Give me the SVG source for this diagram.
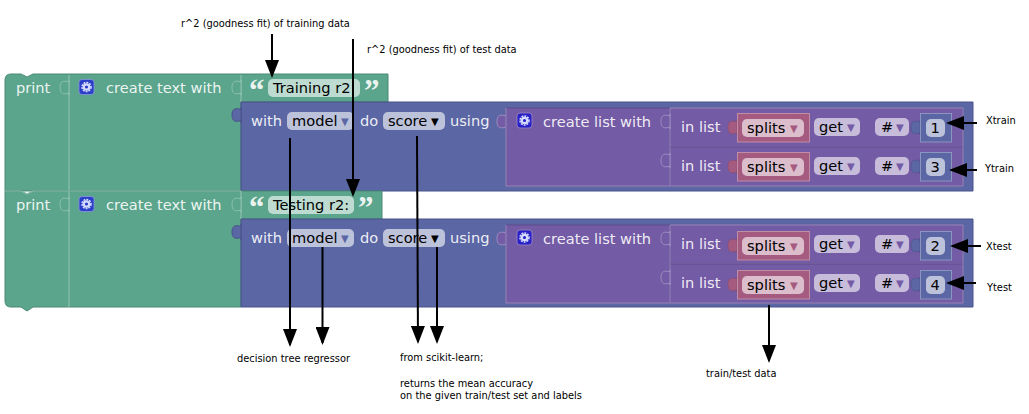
<svg xmlns="http://www.w3.org/2000/svg" width="1029" height="414" viewBox="0 0 1029 414">
<style>
text{font-family:"DejaVu Sans",sans-serif}
.w{font-size:14.62px;fill:#fff;fill-opacity:.9}
.d{font-size:14.62px;fill:#000}
.a{font-size:9.85px;fill:#000}
.g{fill:#5ba58c;stroke:#4a8a74;stroke-width:1}
.gl{stroke:#8cc0ae;stroke-width:1.2;fill:none}
.b{fill:#5b67a5;stroke:#49538a;stroke-width:1}
.p{fill:#745ba5;stroke:#5f4a8a;stroke-width:1}
.pl{fill:none;stroke:#9d8cc0;stroke-width:1}
.r{fill:#a55b80;stroke:#c08ca6;stroke-width:1}
.n{fill:#5b67a5;stroke:#8c95c0;stroke-width:1}
.fb{fill:#bdc2db}
.fp{fill:#c7bddb}
.fr{fill:#dbbdcc}
.fg{fill:#bddbd1}
.tb{fill:#5b67a5;font-size:10px}
.tp{fill:#745ba5;font-size:10px}
.tr{fill:#a55b80;font-size:10px}
.tk{fill:#000;font-size:10px}
.ic{fill:#2a3fc8;stroke:#8c95e0;stroke-width:.8}
.icp{fill:#2a20c8;stroke:#9d8cc0;stroke-width:.8}
.gear{fill:none;stroke:#d5dcff;stroke-width:2.200}
.teeth{fill:none;stroke:#d5dcff;stroke-width:1.600;stroke-dasharray:1.900 1.030}
.q{font-size:31px;font-weight:bold;fill:#fff;fill-opacity:.9;font-family:"Liberation Serif",serif}
.sg{fill:#5ba58c;stroke:#8cc0ae}
.sp{fill:#745ba5;stroke:#9d8cc0}
.tbb{fill:#5b67a5;stroke:#49538a}
.tpk{fill:#a55b80;stroke:#8a4a6a;stroke-width:.6}
.tnb{fill:#5b67a5;stroke:#49538a;stroke-width:.6}
.con{stroke:#000;stroke-width:2;fill:none}
</style>
<defs>
<marker id="ah" markerUnits="userSpaceOnUse" markerWidth="18" markerHeight="14" refX="16" refY="7" orient="auto"><path d="M0 0L18 7L0 14Z" fill="#000"/></marker>
<path id="tab" d="M0 0v2c-6-2-9-.5-9 5.500s3 7.500 9 5.500v2z"/>
</defs>

<g id="print1">
<path class="g" d="M11 74H21l6 3l6-3H388V102H241V191H5V80Q5 74 11 74Z"/>
<path class="gl" d="M69 75V190M241 75V102"/>
<text class="w" x="16" y="93">print</text>
<use href="#tab" x="69" y="80" class="sg"/>
<use href="#tab" x="241" y="80" class="sg"/>
<rect class="ic" x="79" y="79.500" width="15" height="15" rx="3"/>
<circle class="gear" cx="86.500" cy="87" r="2.700"/>
<circle class="teeth" cx="86.500" cy="87" r="4.500"/>
<text class="w" x="106" y="93">create text with</text>
<text class="q" x="249" y="101">“</text>
<rect class="fg" x="268" y="79" width="92" height="18" rx="5"/>
<text class="d" x="273" y="93">Training r2</text>
<text class="q" x="364" y="101">”</text>
</g>

<g id="score1">
<path class="b" d="M241 102H973V191H241Z"/>
<use href="#tab" x="241" y="107.500" class="tbb"/>
<text class="w" x="251" y="126">with</text>
<rect class="fb" x="287" y="112" width="67" height="18" rx="5"/>
<text class="d" x="292" y="126">model</text>
<text class="tb" x="341" y="125">▼</text>
<text class="w" x="360" y="126">do</text>
<rect class="fb" x="383" y="112" width="62" height="18" rx="5"/>
<text class="d" x="388" y="126">score</text>
<text class="tk" x="431" y="125">▼</text>
<text class="w" x="450" y="126">using</text>
<use href="#tab" x="506" y="114" class="sp"/>
</g>

<g id="list1">
<path class="p" d="M506 108H670V186H506Z"/>
<path class="pl" d="M506 108V186H670"/>
<rect class="icp" x="517" y="113" width="15" height="15" rx="3"/>
<circle class="gear" cx="524.500" cy="120.500" r="2.700"/>
<circle class="teeth" cx="524.500" cy="120.500" r="4.500"/>
<text class="w" x="543" y="127">create list with</text>
</g>

<g id="row1">
<path class="p" d="M670 108H963V147H670Z"/>
<path class="pl" d="M670 108V147H963V108H670"/>
<use href="#tab" x="670" y="114" class="sp"/>
<text class="w" x="681" y="132">in list</text>
<use href="#tab" x="737" y="120" class="tpk"/>
<rect class="r" x="737.500" y="113.500" width="72" height="28.500"/>
<rect class="fr" x="742" y="119" width="62" height="18" rx="5"/>
<text class="d" x="747" y="133">splits</text>
<text class="tr" x="790" y="132">▼</text>
<rect class="fp" x="814" y="118" width="46" height="18" rx="5"/>
<text class="d" x="819" y="132">get</text>
<text class="tp" x="847" y="131">▼</text>
<rect class="fp" x="875" y="118" width="34" height="18" rx="5"/>
<text class="d" x="881" y="132">#</text>
<text class="tp" x="896" y="131">▼</text>
<use href="#tab" x="920" y="120" class="tnb"/>
<rect class="n" x="920.500" y="113.500" width="31" height="28.500"/>
<rect class="fb" x="926" y="119" width="19" height="18" rx="5"/>
<text class="d" x="930.500" y="133">1</text>
</g>

<g id="row2">
<path class="p" d="M670 147H963V186H670Z"/>
<path class="pl" d="M670 147V186H963V147"/>
<use href="#tab" x="670" y="153" class="sp"/>
<text class="w" x="681" y="171">in list</text>
<use href="#tab" x="737" y="159" class="tpk"/>
<rect class="r" x="737.500" y="152.500" width="72" height="28.500"/>
<rect class="fr" x="742" y="158" width="62" height="18" rx="5"/>
<text class="d" x="747" y="172">splits</text>
<text class="tr" x="790" y="171">▼</text>
<rect class="fp" x="814" y="157" width="46" height="18" rx="5"/>
<text class="d" x="819" y="171">get</text>
<text class="tp" x="847" y="170">▼</text>
<rect class="fp" x="875" y="157" width="34" height="18" rx="5"/>
<text class="d" x="881" y="171">#</text>
<text class="tp" x="896" y="170">▼</text>
<use href="#tab" x="920" y="159" class="tnb"/>
<rect class="n" x="920.500" y="152.500" width="31" height="28.500"/>
<rect class="fb" x="926" y="158" width="19" height="18" rx="5"/>
<text class="d" x="930.500" y="172">3</text>
</g>

<g id="print2">
<path class="g" d="M5 191H21l6 3l6-3H382V219H241V307H33l-6 4l-6-4H11Q5 307 5 301Z"/>
<path class="gl" d="M5 191H21l6 3l6-3H241M69 191V307M241 191V219"/>
<text class="w" x="16" y="210">print</text>
<use href="#tab" x="69" y="197" class="sg"/>
<use href="#tab" x="241" y="197" class="sg"/>
<rect class="ic" x="79" y="196.500" width="15" height="15" rx="3"/>
<circle class="gear" cx="86.500" cy="204" r="2.700"/>
<circle class="teeth" cx="86.500" cy="204" r="4.500"/>
<text class="w" x="106" y="210">create text with</text>
<text class="q" x="249" y="218">“</text>
<rect class="fg" x="268" y="196" width="86" height="18" rx="5"/>
<text class="d" x="273" y="210">Testing r2:</text>
<text class="q" x="358" y="218">”</text>
</g>

<g id="score2">
<path class="b" d="M241 219H973V307H241Z"/>
<use href="#tab" x="241" y="224.500" class="tbb"/>
<text class="w" x="251" y="243">with</text>
<rect class="fb" x="287" y="229" width="67" height="18" rx="5"/>
<text class="d" x="292" y="243">model</text>
<text class="tb" x="341" y="242">▼</text>
<text class="w" x="360" y="243">do</text>
<rect class="fb" x="383" y="229" width="62" height="18" rx="5"/>
<text class="d" x="388" y="243">score</text>
<text class="tk" x="431" y="242">▼</text>
<text class="w" x="450" y="243">using</text>
<use href="#tab" x="506" y="231" class="sp"/>
</g>

<g id="list2">
<path class="p" d="M506 225H670V303H506Z"/>
<path class="pl" d="M506 225V303H670"/>
<rect class="icp" x="517" y="230" width="15" height="15" rx="3"/>
<circle class="gear" cx="524.500" cy="237.500" r="2.700"/>
<circle class="teeth" cx="524.500" cy="237.500" r="4.500"/>
<text class="w" x="543" y="244">create list with</text>
</g>

<g id="row3">
<path class="p" d="M670 225H963V264H670Z"/>
<path class="pl" d="M670 225V264H963V225H670"/>
<use href="#tab" x="670" y="231" class="sp"/>
<text class="w" x="681" y="249">in list</text>
<use href="#tab" x="737" y="238" class="tpk"/>
<rect class="r" x="737.500" y="231.500" width="72" height="28.500"/>
<rect class="fr" x="742" y="237" width="62" height="18" rx="5"/>
<text class="d" x="747" y="251">splits</text>
<text class="tr" x="790" y="250">▼</text>
<rect class="fp" x="814" y="235" width="46" height="18" rx="5"/>
<text class="d" x="819" y="249">get</text>
<text class="tp" x="847" y="248">▼</text>
<rect class="fp" x="875" y="235" width="34" height="18" rx="5"/>
<text class="d" x="881" y="249">#</text>
<text class="tp" x="896" y="248">▼</text>
<use href="#tab" x="920" y="238" class="tnb"/>
<rect class="n" x="920.500" y="231.500" width="31" height="28.500"/>
<rect class="fb" x="926" y="237" width="19" height="18" rx="5"/>
<text class="d" x="930.500" y="251">2</text>
</g>

<g id="row4">
<path class="p" d="M670 264H963V303H670Z"/>
<path class="pl" d="M670 264V303H963V264"/>
<use href="#tab" x="670" y="270" class="sp"/>
<text class="w" x="681" y="288">in list</text>
<use href="#tab" x="737" y="277" class="tpk"/>
<rect class="r" x="737.500" y="270.500" width="72" height="28.500"/>
<rect class="fr" x="742" y="276" width="62" height="18" rx="5"/>
<text class="d" x="747" y="290">splits</text>
<text class="tr" x="790" y="289">▼</text>
<rect class="fp" x="814" y="274" width="46" height="18" rx="5"/>
<text class="d" x="819" y="288">get</text>
<text class="tp" x="847" y="287">▼</text>
<rect class="fp" x="875" y="274" width="34" height="18" rx="5"/>
<text class="d" x="881" y="288">#</text>
<text class="tp" x="896" y="287">▼</text>
<use href="#tab" x="920" y="277" class="tnb"/>
<rect class="n" x="920.500" y="270.500" width="31" height="28.500"/>
<rect class="fb" x="926" y="276" width="19" height="18" rx="5"/>
<text class="d" x="930.500" y="290">4</text>
</g>

<g id="connectors">
<path class="con" marker-end="url(#ah)" d="M272 34V76"/>
<path class="con" marker-end="url(#ah)" d="M353 39V195"/>
<path class="con" marker-end="url(#ah)" d="M290 138V345"/>
<path class="con" marker-end="url(#ah)" d="M322.500 247V343"/>
<path class="con" marker-end="url(#ah)" d="M417 136L418 342"/>
<path class="con" marker-end="url(#ah)" d="M437 247V342"/>
<path class="con" marker-end="url(#ah)" d="M769 305V361"/>
<path class="con" marker-end="url(#ah)" d="M977 123H948"/>
<path class="con" marker-end="url(#ah)" d="M977 170H951"/>
<path class="con" marker-end="url(#ah)" d="M981 246H952"/>
<path class="con" marker-end="url(#ah)" d="M976 283H948"/>
</g>

<g id="labels">
<text class="a" x="181" y="27">r^2 (goodness fit) of training data</text>
<text class="a" x="367" y="53">r^2 (goodness fit) of test data</text>
<text class="a" x="986" y="124">Xtrain</text>
<text class="a" x="985" y="172">Ytrain</text>
<text class="a" x="986" y="250">Xtest</text>
<text class="a" x="987" y="291">Ytest</text>
<text class="a" x="237" y="362">decision tree regressor</text>
<text class="a" x="400" y="361">from scikit-learn;</text>
<text class="a" x="400" y="387">returns the mean accuracy</text>
<text class="a" x="400" y="399">on the given train/test set and labels</text>
<text class="a" x="706" y="377">train/test data</text>
</g>
</svg>
